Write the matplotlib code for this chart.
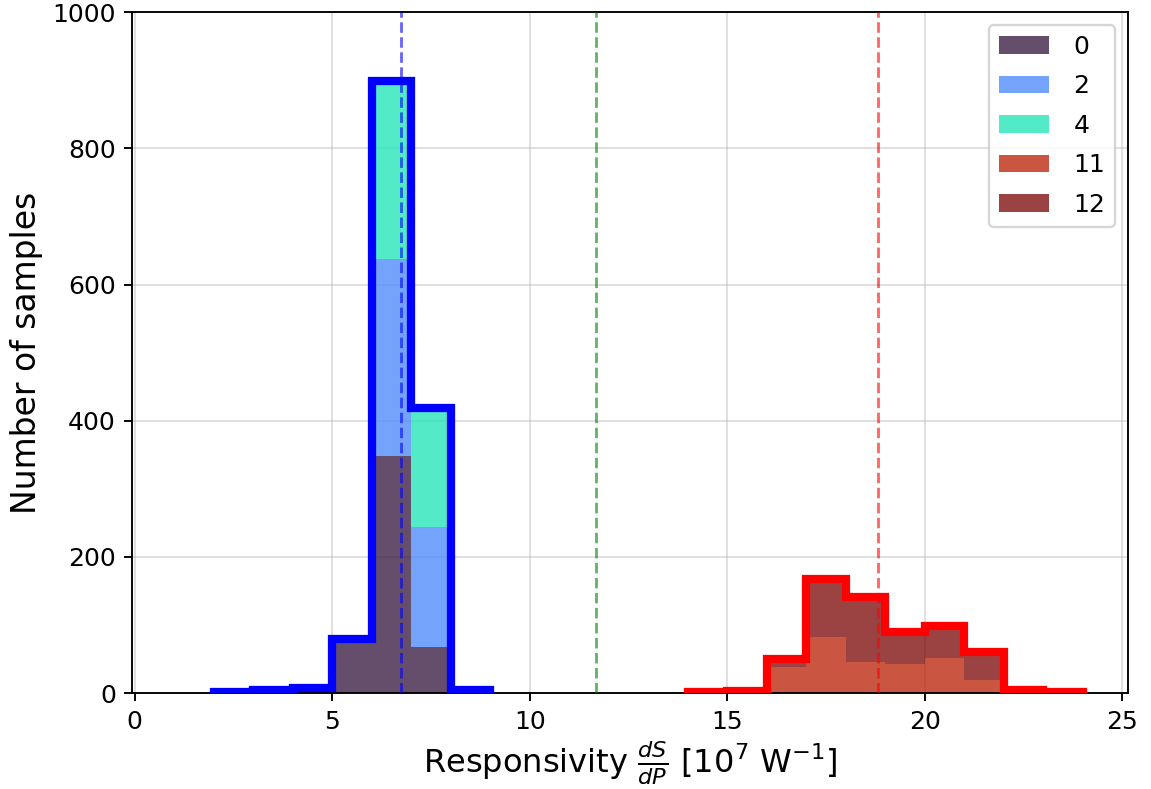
import numpy as np
import matplotlib
matplotlib.use('Agg')
import matplotlib.pyplot as plt

# bin edges of the two groups
blue_edges = [2, 3, 4, 5, 6, 7, 8, 9]
red_edges = [14, 15, 16, 17, 18, 19, 20, 21, 22, 23, 24]

# counts per bin
counts_0 = [1, 3, 5, 76, 348, 67, 3]
counts_2 = [0, 1, 1, 2, 290, 177, 1]
counts_4 = [0, 0, 1, 1, 261, 174, 0]
counts_11 = [1, 2, 38, 82, 45, 43, 51, 19, 3, 1]
counts_12 = [0, 1, 12, 85, 96, 46, 48, 41, 2, 0]

blue_labels = [0, 2, 4]
red_labels = [11, 12]

# dashed reference lines
blue_line = 6.75
green_line = 11.69
red_line = 18.82

fig = plt.figure(figsize=(1151 / 170, 789 / 170), dpi=170)
ax = fig.add_axes([132.3 / 1151, 1 - 693 / 789, (1128 - 132.3) / 1151, (693 - 12.3) / 789])

cmap = plt.cm.turbo

# blue group
be = np.array(blue_edges, dtype=float)
bc = (be[:-1] + be[1:]) / 2
ax.hist([bc, bc, bc], bins=be, weights=[counts_0, counts_2, counts_4],
        stacked=True, histtype='stepfilled', alpha=0.75,
        color=[cmap(k / 12) for k in blue_labels],
        label=[str(k) for k in blue_labels], zorder=2)
blue_total = np.array(counts_0) + np.array(counts_2) + np.array(counts_4)
ax.hist(bc, bins=be, weights=blue_total, histtype='step', color='blue', lw=3.5, zorder=3)

# red group
re_ = np.array(red_edges, dtype=float)
rc = (re_[:-1] + re_[1:]) / 2
ax.hist([rc, rc], bins=re_, weights=[counts_11, counts_12],
        stacked=True, histtype='stepfilled', alpha=0.75,
        color=[cmap(k / 12) for k in red_labels],
        label=[str(k) for k in red_labels], zorder=2)
red_total = np.array(counts_11) + np.array(counts_12)
ax.hist(rc, bins=re_, weights=red_total, histtype='step', color='red', lw=3.5, zorder=3)

ax.axvline(blue_line, color='blue', ls='--', lw=1.2, alpha=0.6, zorder=4)
ax.axvline(green_line, color='green', ls='--', lw=1.2, alpha=0.6, zorder=4)
ax.axvline(red_line, color='red', ls='--', lw=1.2, alpha=0.6, zorder=4)

ax.set_xlim(-0.06, 25.15)
ax.set_ylim(0, 1000)
ax.set_xticks([0, 5, 10, 15, 20, 25])
ax.grid(alpha=0.4)
ax.set_axisbelow(True)
ax.tick_params(labelsize=10.6)
ax.set_xlabel(r'Responsivity $\frac{dS}{dP}$ [$10^7$ W$^{-1}$]', fontsize=13.6, labelpad=2.5)
ax.set_ylabel('Number of samples', fontsize=14)

# legend in label order 0, 2, 4, 11, 12
handles, labels = ax.get_legend_handles_labels()
order = sorted(range(len(labels)), key=lambda i: int(labels[i]))
ax.legend([handles[i] for i in order], [labels[i] for i in order],
          loc='upper right', fontsize=10.6, labelspacing=0.62, handletextpad=1.0)

fig.savefig('out.png', dpi=170)
